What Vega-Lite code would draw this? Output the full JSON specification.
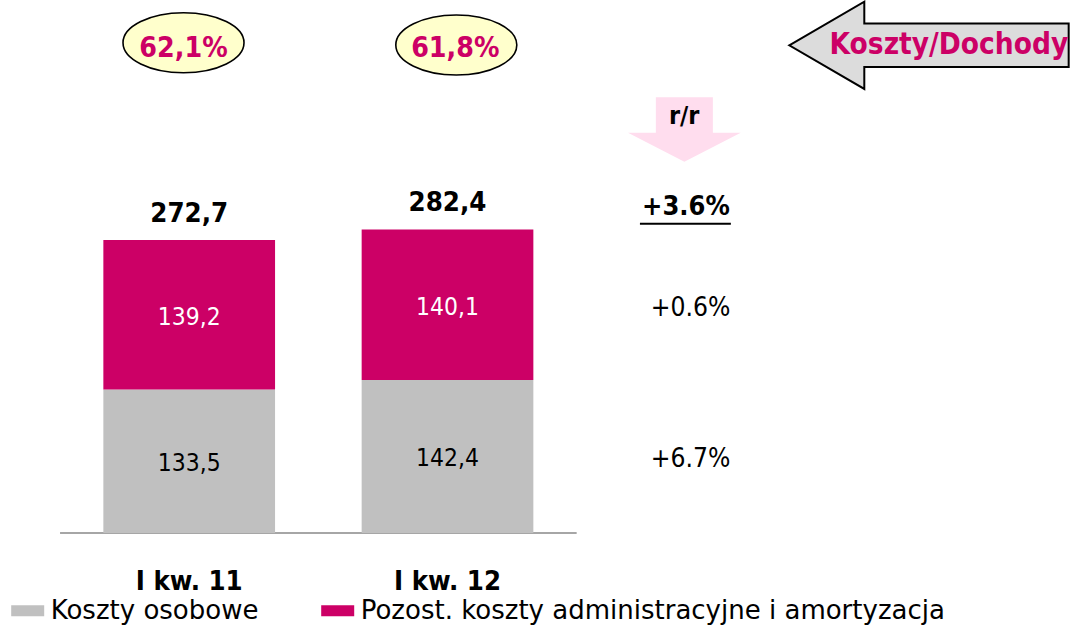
{
  "$schema": "https://vega.github.io/schema/vega-lite/v6.json",
  "width": 1072,
  "height": 630,
  "autosize": {"type": "none"},
  "padding": 0,
  "background": "white",
  "config": {
    "view": {"stroke": null},
    "axis": {"disable": true},
    "scale": {"continuousPadding": 0},
    "font": "DejaVu Sans Condensed",
    "locale": {"number": {"decimal": ",", "thousands": " ", "grouping": [3], "currency": ["", " zł"]}}
  },
  "datasets": {
    "costs": [
      {"rok": 2011, "kw": "I kw. 11", "series": "Koszty osobowe", "value": 133.5, "rr": ""},
      {"rok": 2011, "kw": "I kw. 11", "series": "Pozost. koszty administracyjne i amortyzacja", "value": 139.2, "rr": ""},
      {"rok": 2012, "kw": "I kw. 12", "series": "Koszty osobowe", "value": 142.4, "rr": "+6.7%"},
      {"rok": 2012, "kw": "I kw. 12", "series": "Pozost. koszty administracyjne i amortyzacja", "value": 140.1, "rr": "+0.6%"}
    ],
    "totals": [
      {"rok": 2011, "kw": "I kw. 11", "total": 272.7, "ratio": "62,1%", "rr": ""},
      {"rok": 2012, "kw": "I kw. 12", "total": 282.4, "ratio": "61,8%", "rr": "+3.6%"}
    ]
  },
  "layer": [
    {
      "data": {"values": [{}]},
      "mark": {"type": "rule", "color": "#A6A6A6", "strokeWidth": 2},
      "encoding": {
        "x": {"datum": 2010.5, "type": "quantitative", "scale": {"domain": [2010.2675, 2014.4177], "nice": false, "zero": false, "padding": 0}, "axis": null},
        "x2": {"datum": 2012.5},
        "y": {"datum": 0, "type": "quantitative", "scale": {"domain": [-90.28, 496.07], "nice": false, "zero": false, "padding": 0}, "axis": null}
      }
    },
    {
      "data": {"name": "costs"},
      "mark": {"type": "bar", "width": 171.7},
      "encoding": {
        "x": {"field": "rok", "type": "quantitative", "scale": {"domain": [2010.2675, 2014.4177], "nice": false, "zero": false, "padding": 0}, "axis": null},
        "y": {"field": "value", "type": "quantitative", "stack": "zero", "scale": {"domain": [-90.28, 496.07], "nice": false, "zero": false, "padding": 0}, "axis": null},
        "order": {"field": "series", "sort": "ascending"},
        "color": {
          "field": "series",
          "type": "nominal",
          "scale": {"domain": ["Koszty osobowe", "Pozost. koszty administracyjne i amortyzacja"], "range": ["#C0C0C0", "#CC0066"]},
          "legend": {
            "orient": "none",
            "legendX": 11.2,
            "legendY": 594,
            "direction": "horizontal",
            "title": null,
            "symbolType": "M-1,-0.333H1V0.333H-1Z",
            "symbolSize": 1089,
            "symbolStrokeWidth": 0,
            "symbolOpacity": 1,
            "labelFont": "DejaVu Sans",
            "labelFontSize": 26,
            "labelColor": "black",
            "labelOffset": 6.5,
            "labelLimit": 1000,
            "columnPadding": 62,
            "padding": 0
          }
        }
      }
    },
    {
      "data": {"name": "costs"},
      "transform": [
        {"stack": "value", "groupby": ["rok"], "sort": [{"field": "series", "order": "ascending"}], "as": ["v0", "v1"]},
        {"calculate": "(datum.v0 + datum.v1) / 2", "as": "mid"}
      ],
      "layer": [
        {
          "mark": {"type": "text", "fontSize": 24.4, "baseline": "alphabetic", "dy": 10},
          "encoding": {
            "x": {"field": "rok", "type": "quantitative"},
            "y": {"field": "mid", "type": "quantitative"},
            "text": {"field": "value", "type": "quantitative", "format": ".1f"},
            "color": {"condition": {"test": "datum.series === 'Koszty osobowe'", "value": "black"}, "value": "white"}
          }
        },
        {
          "transform": [{"filter": "datum.rr !== ''"}],
          "mark": {"type": "text", "fontSize": 26.2, "baseline": "alphabetic", "dy": 11, "color": "black"},
          "encoding": {
            "x": {"datum": 2012.941},
            "y": {"field": "mid", "type": "quantitative"},
            "text": {"field": "rr", "type": "nominal"}
          }
        }
      ]
    },
    {
      "data": {"name": "totals"},
      "mark": {"type": "text", "fontSize": 27.4, "fontWeight": "bold", "baseline": "alphabetic", "dy": -18.2, "color": "black"},
      "encoding": {
        "x": {"field": "rok", "type": "quantitative"},
        "y": {"field": "total", "type": "quantitative"},
        "text": {"field": "total", "type": "quantitative", "format": ".1f"}
      }
    },
    {
      "data": {"name": "totals"},
      "transform": [{"filter": "datum.rok === 2011"}],
      "layer": [
        {
          "mark": {"type": "point", "shape": "M-1,0A1,0.496,0,1,1,1,0A1,0.496,0,1,1,-1,0Z", "size": 14641, "filled": true, "fill": "#FFFFCC", "stroke": "black", "strokeWidth": 1.6, "opacity": 1, "xOffset": -5.7},
          "encoding": {
            "x": {"field": "rok", "type": "quantitative"},
            "y": {"datum": 456.3}
          }
        },
        {
          "mark": {"type": "text", "fontSize": 28.3, "fontWeight": "bold", "baseline": "alphabetic", "color": "#CC0066", "xOffset": -5.7},
          "encoding": {
            "x": {"field": "rok", "type": "quantitative"},
            "y": {"datum": 443.3},
            "text": {"field": "ratio", "type": "nominal"}
          }
        }
      ]
    },
    {
      "data": {"name": "totals"},
      "transform": [{"filter": "datum.rok === 2012"}],
      "layer": [
        {
          "mark": {"type": "point", "shape": "M-1,0A1,0.496,0,1,1,1,0A1,0.496,0,1,1,-1,0Z", "size": 14641, "filled": true, "fill": "#FFFFCC", "stroke": "black", "strokeWidth": 1.6, "opacity": 1, "xOffset": 8.8},
          "encoding": {
            "x": {"field": "rok", "type": "quantitative"},
            "y": {"datum": 454.2}
          }
        },
        {
          "mark": {"type": "text", "fontSize": 28.3, "fontWeight": "bold", "baseline": "alphabetic", "color": "#CC0066", "xOffset": 7.8},
          "encoding": {
            "x": {"field": "rok", "type": "quantitative"},
            "y": {"datum": 443.3},
            "text": {"field": "ratio", "type": "nominal"}
          }
        }
      ]
    },
    {
      "data": {"name": "totals"},
      "mark": {"type": "text", "fontSize": 27.3, "fontWeight": "bold", "baseline": "alphabetic", "color": "black"},
      "encoding": {
        "x": {"field": "rok", "type": "quantitative"},
        "y": {"datum": -52.7},
        "text": {"field": "kw", "type": "nominal"}
      }
    },
    {
      "data": {"name": "totals"},
      "transform": [{"filter": "datum.rr !== ''"}],
      "layer": [
        {
          "mark": {"type": "text", "fontSize": 27, "fontWeight": "bold", "baseline": "alphabetic", "dy": -14.6, "color": "black"},
          "encoding": {
            "x": {"datum": 2012.923},
            "y": {"field": "total", "type": "quantitative"},
            "text": {"field": "rr", "type": "nominal"}
          }
        },
        {
          "mark": {"type": "rule", "color": "black", "strokeWidth": 2, "yOffset": -5.9},
          "encoding": {
            "x": {"datum": 2012.745},
            "x2": {"datum": 2013.097},
            "y": {"field": "total", "type": "quantitative"}
          }
        }
      ]
    },
    {
      "data": {"values": [{"label": "r/r"}]},
      "layer": [
        {
          "mark": {"type": "point", "shape": "M-0.506,-0.571L0.506,-0.571L0.506,0.057L1,0.057L0,0.571L-1,0.057L-0.506,0.057Z", "size": 12701, "filled": true, "fill": "#FFDDEE", "strokeWidth": 0, "opacity": 1},
          "encoding": {
            "x": {"datum": 2012.917},
            "y": {"datum": 375.5}
          }
        },
        {
          "mark": {"type": "text", "fontSize": 25, "fontWeight": "bold", "baseline": "alphabetic", "color": "black"},
          "encoding": {
            "x": {"datum": 2012.916},
            "y": {"datum": 380.4},
            "text": {"field": "label", "type": "nominal"}
          }
        }
      ]
    },
    {
      "data": {"values": [{"label": "Koszty/Dochody"}]},
      "layer": [
        {
          "mark": {"type": "point", "shape": "M-1,0L-0.463,-0.312L-0.463,-0.157L1,-0.157L1,0.155L-0.463,0.155L-0.463,0.312Z", "size": 78064, "filled": true, "fill": "#DCDCDC", "stroke": "black", "strokeWidth": 2, "opacity": 1},
          "encoding": {
            "x": {"datum": 2013.864},
            "y": {"datum": 453.9}
          }
        },
        {
          "mark": {"type": "text", "fontSize": 29.5, "fontWeight": "bold", "baseline": "alphabetic", "color": "#CC0066"},
          "encoding": {
            "x": {"datum": 2013.941},
            "y": {"datum": 445.5},
            "text": {"field": "label", "type": "nominal"}
          }
        }
      ]
    }
  ]
}
